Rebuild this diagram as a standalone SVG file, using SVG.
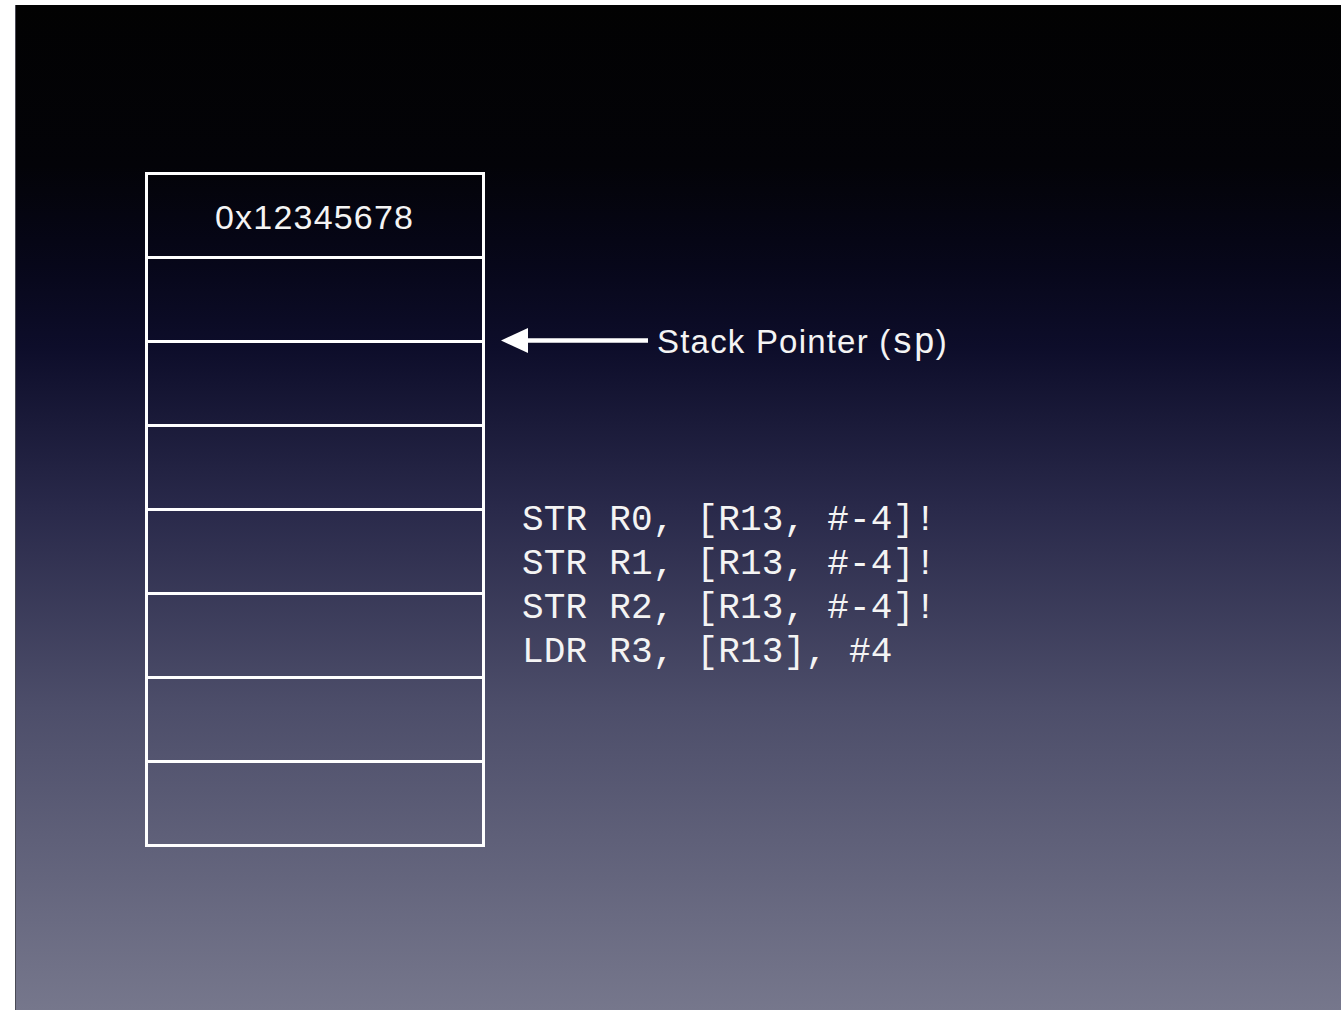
<svg xmlns="http://www.w3.org/2000/svg" width="1341" height="1010" viewBox="0 0 1341 1010">
  <defs>
    <linearGradient id="bg" x1="0" y1="5" x2="0" y2="1010" gradientUnits="userSpaceOnUse">
      <stop offset="0" stop-color="#020202"/>
      <stop offset="0.16" stop-color="#030308"/>
      <stop offset="0.26" stop-color="#07071a"/>
      <stop offset="0.34" stop-color="#0d0d2a"/>
      <stop offset="0.5" stop-color="#29294a"/>
      <stop offset="0.7" stop-color="#4d4e6a"/>
      <stop offset="1" stop-color="#76778c"/>
    </linearGradient>
  </defs>
  <style>
    .cell { fill: none; stroke: #ffffff; stroke-width: 3; }
    .sans { font-family: "Liberation Sans", Arial, sans-serif; fill: #f4f4f4; }
    .mono { font-family: "Liberation Mono", "Courier New", monospace; fill: #f4f4f4; }
  </style>

  <!-- page margin and slide background -->
  <rect x="0" y="0" width="1341" height="1010" fill="#ffffff"/>
  <rect x="15" y="5" width="1326" height="1005" fill="url(#bg)"/>
  <line x1="15.5" y1="5" x2="15.5" y2="1010" stroke="#4a4a55" stroke-width="1"/>

  <!-- stack memory column -->
  <g id="stack">
    <rect class="cell" x="146.5" y="173.5" width="337" height="672"/>
    <line class="cell" x1="146.5" y1="257.5" x2="483.5" y2="257.5"/>
    <line class="cell" x1="146.5" y1="341.5" x2="483.5" y2="341.5"/>
    <line class="cell" x1="146.5" y1="425.5" x2="483.5" y2="425.5"/>
    <line class="cell" x1="146.5" y1="509.5" x2="483.5" y2="509.5"/>
    <line class="cell" x1="146.5" y1="593.5" x2="483.5" y2="593.5"/>
    <line class="cell" x1="146.5" y1="677.5" x2="483.5" y2="677.5"/>
    <line class="cell" x1="146.5" y1="761.5" x2="483.5" y2="761.5"/>
    <text class="sans" x="314" y="229" font-size="34" text-anchor="middle" textLength="198" lengthAdjust="spacing">0x12345678</text>
  </g>

  <!-- stack pointer arrow -->
  <g id="connectors">
    <line x1="524" y1="340.5" x2="648" y2="340.5" stroke="#ffffff" stroke-width="4.5"/>
    <polygon points="501,340.5 528,328 528,353" fill="#ffffff"/>
  </g>

  <g id="sp-label">
    <text class="sans" x="657" y="353" font-size="33" letter-spacing="1.2">Stack Pointer (<tspan class="mono" font-size="36" letter-spacing="0.5">sp</tspan>)</text>
  </g>

  <!-- instruction listing -->
  <g id="code" class="mono" font-size="36">
    <text x="522" y="530" letter-spacing="0.2">STR R0, [R13, #-4]!</text>
    <text x="522" y="574" letter-spacing="0.2">STR R1, [R13, #-4]!</text>
    <text x="522" y="618" letter-spacing="0.2">STR R2, [R13, #-4]!</text>
    <text x="522" y="662" letter-spacing="0.2">LDR R3, [R13], #4</text>
  </g>
</svg>
